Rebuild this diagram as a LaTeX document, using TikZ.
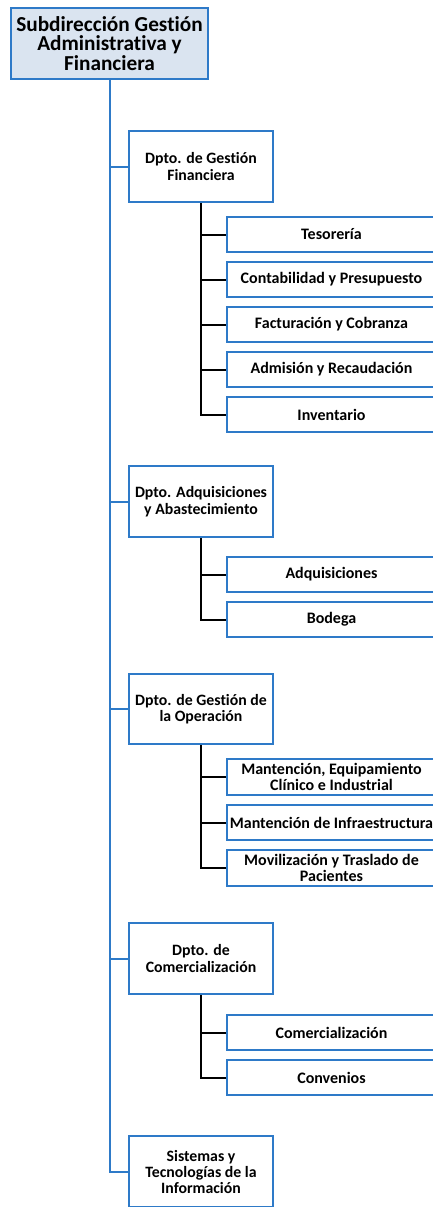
\documentclass[tikz,border=0pt]{standalone}
\usepackage{fontspec}
\setmainfont{Carlito}[RawFeature=-liga]
\begin{document}
\begin{tikzpicture}[x=1pt,y=-1pt,
  bl/.style={draw=boxblue,line width=2pt},
  topbox/.style={bl,fill=topfill,anchor=north west,inner sep=0pt,minimum width=197pt,minimum height=71pt,align=center,font=\bfseries\fontsize{21.3}{19.5}\selectfont},
  dept/.style={bl,fill=white,anchor=north west,inner sep=0pt,minimum width=144pt,minimum height=71pt,align=center,font=\bfseries\fontsize{15.8}{16.5}\selectfont},
  child/.style={bl,fill=white,anchor=north west,inner sep=0pt,minimum width=209pt,minimum height=35pt,align=center,font=\bfseries\fontsize{16}{15.5}\selectfont},
  trunk/.style={draw=boxblue,line width=2pt},
  blk/.style={draw=black,line width=2pt}]
\definecolor{boxblue}{HTML}{2E7AC8}
\definecolor{topfill}{HTML}{DAE4F0}
\useasboundingbox (0,0) rectangle (433,1207);
% nodes
\node[topbox] (top) at (10,7) {\raisebox{4pt}{\parbox{195pt}{\centering Subdirección Gestión\\Administrativa y\\Financiera}}};
\node[dept] (d1) at (128,130) {Dpto. de Gestión\\Financiera};
\node[dept] (d2) at (128,465) {Dpto. Adquisiciones\\y Abastecimiento};
\node[dept,minimum height=70pt] (d3) at (128,673) {Dpto. de Gestión de\\la Operación};
\node[dept] (d4) at (128,922) {Dpto. de\\Comercialización};
\node[dept,font=\bfseries\fontsize{15.8}{16}\selectfont] (d5) at (128,1135) {Sistemas y\\Tecnologías de la\\Información};
% children
\node[child] (c11) at (226,216) {Tesorería};
\node[child] (c12) at (226,261) {Contabilidad y Presupuesto};
\node[child] (c13) at (226,306) {Facturación y Cobranza};
\node[child] (c14) at (226,351) {Admisión y Recaudación};
\node[child] (c15) at (226,396) {Inventario};
\node[child] (c21) at (226,556) {Adquisiciones};
\node[child] (c22) at (226,601) {Bodega};
\node[child,minimum height=36pt] (c31) at (226,758) {Mantención, Equipamiento\\Clínico e Industrial};
\node[child] (c32) at (226,804) {Mantención de Infraestructura};
\node[child,minimum height=36pt] (c33) at (226,849) {Movilización y Traslado de\\Pacientes};
\node[child] (c41) at (226,1014) {Comercialización};
\node[child] (c42) at (226,1059) {Convenios};
% trunk
\draw[trunk] (top.south) |- (d5.west);
\foreach \d in {d1,d2,d3,d4}{\draw[trunk] (\d.west) -- (\d.west -| top.south);}
% black branches
\foreach \c in {c11,c12,c13,c14,c15}{\draw[blk] (d1.south) |- (\c.west);}
\foreach \c in {c21,c22}{\draw[blk] (d2.south) |- (\c.west);}
\foreach \c in {c31,c32,c33}{\draw[blk] (d3.south) |- (\c.west);}
\foreach \c in {c41,c42}{\draw[blk] (d4.south) |- (\c.west);}
\end{tikzpicture}
\end{document}
